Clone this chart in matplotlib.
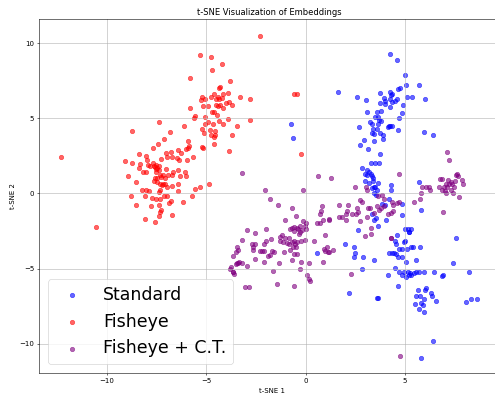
import matplotlib
matplotlib.use("Agg")
import matplotlib.pyplot as plt
import numpy as np

# t-SNE coordinates =================================================
std_x = [-0.75, -0.65,
         4.25, 4.6, 5.0, 5.05, 5.7, 1.65, 3.75, 4.25, 4.35, 4.3, 4.65, 4.75,
         2.6, 3.05, 3.95, 4.0, 4.25, 4.35, 4.5, 4.6, 5.1, 5.35, 6.0, 3.75,
         4.0, 4.25, 4.9, 3.8, 3.6, 3.1, 4.85, 3.5, 3.65, 3.7, 4.7, 3.25,
         3.35, 3.65, 3.8, 4.2, 4.25, 4.35, 4.15, 2.7, 3.4, 3.6, 4.65, 3.35,
         3.45, 3.75, 3.9, 3.9, 2.95, 3.45, 5.95, 6.4, 2.75, 3.15, 3.75, 3.3,
         3.5, 3.7, 2.85, 3.1,
         3.2, 3.0, 3.1, 3.35, 3.4, 3.3, 3.0, 3.2, 3.4, 3.65, 3.45, 3.35,
         3.5, 3.6, 4.3, 4.3, 3.45, 3.55, 5.7, 4.2, 4.0, 4.85, 3.85, 5.8,
         3.35, 4.85, 3.45, 3.55, 4.05, 3.65, 2.65, 5.0, 5.15, 5.2, 5.2, 5.3,
         4.6, 7.55, 5.0, 4.95, 4.5, 4.55, 2.0, 2.45, 4.2, 4.35, 4.45, 4.55,
         4.7, 4.85, 5.1, 5.3, 5.4, 5.75, 2.5, 2.9, 3.45, 4.65, 4.85, 5.55,
         2.45,
         5.05, 7.4, 2.85, 4.5, 4.15, 4.7, 4.85, 5.05, 4.95, 5.15, 5.25, 5.3,
         5.45, 5.55, 5.7, 5.95, 6.45, 5.2, 6.85, 6.9, 8.2, 4.65, 2.2, 3.6,
         3.65, 5.65, 6.0, 6.05, 6.3, 6.35, 5.55, 5.75, 5.95, 6.55, 5.8, 5.5,
         5.9, 5.7, 5.95, 8.05, 8.3, 8.6, 6.4, 5.8, 0.55]
std_y = [4.6, 3.65,
         9.3, 8.85, 7.9, 7.2, 7.2, 6.75, 6.65, 6.75, 6.6, 6.55, 6.95, 7.0,
         6.4, 6.2, 6.35, 6.15, 6.3, 6.1, 6.15, 6.25, 6.4, 6.4, 6.3, 6.0,
         5.95, 5.75, 5.9, 5.5, 5.4, 5.4, 5.35, 5.05, 5.05, 4.9, 5.0, 4.75,
         4.6, 4.6, 4.8, 4.5, 4.5, 4.45, 4.4, 4.4, 4.3, 4.25, 4.2, 4.0,
         3.95, 4.0, 3.85, 3.6, 3.55, 3.45, 4.1, 3.9, 3.25, 2.95, 2.65, 2.0,
         2.0, 2.0, 1.7, 1.55,
         1.45, 1.3, 1.2, 1.15, 1.0, 1.3, 0.8, 0.7, 0.8, 0.7, 0.45, 0.35,
         0.4, 0.25, 0.55, 0.2, 0.0, -0.1, 0.75, -0.4, -0.75, -0.7, -0.7, -1.1,
         -1.35, -1.45, -1.75, -1.65, -1.75, -2.15, -2.45, -2.4, -2.4, -2.55, -2.6, -2.35,
         -2.75, -2.95, -3.15, -3.25, -3.2, -3.4, -3.4, -3.6, -4.0, -4.0, -4.0, -4.05,
         -3.7, -3.7, -3.7, -3.6, -3.55, -3.6, -4.0, -4.25, -4.4, -4.25, -4.25, -4.4,
         -4.25,
         -4.55, -4.6, -5.05, -4.95, -5.4, -5.25, -5.45, -5.55, -5.2, -5.2, -5.3, -5.45,
         -5.3, -5.2, -5.2, -5.2, -5.2, -5.45, -5.5, -5.4, -5.2, -6.15, -6.6, -6.95,
         -6.95, -6.4, -6.4, -6.3, -6.65, -6.8, -6.85, -6.85, -7.05, -7.15, -7.3, -7.35,
         -7.45, -7.7, -7.9, -7.2, -7.0, -7.0, -9.85, -10.95, -4.0]

fish_x = [-2.3, -5.3, -4.75, -4.2, -4.7, -5.8, -3.8, -4.3, -4.35, -3.9,
          -5.2, -4.75, -4.5, -4.4, -4.35, -4.2, -4.15, -4.6, -3.3, -2.8,
          -5.25, -5.05, -4.0, -3.85, -3.7, -4.9, -5.15, -4.4, -4.3, -4.15,
          -4.5, -5.8, -4.7, -4.6, -4.45, -5.55, -5.6, -5.05, -3.9, -2.8,
          -7.35, -4.9, -4.65, -4.35, -4.15, -5.05, -6.1, -3.45, -5.2, -4.8,
          -6.8, -5.1, -4.75, -4.55, -4.6, -3.7, -7.1, -5.9, -7.4, -5.85,
          -5.9, -5.2, -5.15, -4.6, -7.65, -3.85, -0.6, -0.45, -0.25,
          -8.75, -4.55, -6.0, -8.35, -8.0, -7.0, -6.75, -6.95, -6.7, -6.4,
          -6.25, -6.45, -6.35, -5.65, -5.95, -7.25, -9.1, -8.75, -7.95, -8.3,
          -8.35, -7.9, -12.3, -7.8, -7.6, -7.5, -7.35, -7.5, -7.35, -7.45,
          -7.55, -7.65, -7.0, -6.4, -6.65, -6.7, -6.9, -6.05, -6.0, -6.3,
          -8.15, -8.0, -8.95, -7.5, -7.3, -7.45, -7.55, -7.25, -7.15, -7.05,
          -8.5, -7.6, -7.45, -7.3, -7.15, -7.2, -7.05, -6.95, -6.7, -6.4,
          -6.4, -5.55, -5.3, -4.85, -8.2, -8.0, -7.85, -7.35, -7.3, -7.1,
          -6.95, -8.8, -8.05, -7.7, -7.5, -7.3, -6.15, -5.7, -6.75, -6.85,
          -8.5, -7.75, -7.35, -7.25, -7.3, -7.35, -6.7, -8.05, -7.55, -10.55]
fish_y = [10.5, 9.2, 9.07, 8.6, 8.2, 7.7, 7.5, 7.1, 7.0, 6.7,
          6.4, 6.4, 6.3, 6.4, 6.3, 6.35, 6.6, 6.6, 6.4, 6.3,
          6.2, 6.3, 6.0, 6.1, 5.9, 5.8, 5.8, 5.8, 5.9, 5.7,
          5.9, 5.7, 5.4, 5.4, 5.2, 5.15, 5.0, 5.05, 4.95, 4.9,
          4.75, 4.75, 4.6, 4.8, 4.6, 4.6, 4.45, 4.45, 4.3, 4.2,
          4.05, 4.0, 3.85, 3.9, 3.75, 3.85, 3.6, 3.5, 3.3, 3.15,
          3.0, 3.1, 3.0, 3.3, 3.0, 2.85, 6.6, 6.6, 2.6,
          4.15, 4.15, 2.95, 2.6, 2.5, 2.7, 2.75, 2.45, 2.45, 2.9,
          2.7, 2.35, 2.2, 2.45, 2.25, 2.3, 2.15, 2.05, 2.2, 1.95,
          1.7, 1.9, 2.4, 1.85, 1.8, 1.9, 1.85, 1.6, 1.55, 1.7,
          1.75, 2.0, 1.6, 1.55, 1.4, 1.25, 1.2, 1.45, 1.15, 1.15,
          1.45, 1.45, 1.15, 1.4, 1.25, 1.05, 1.05, 1.1, 1.25, 1.0,
          0.75, 0.8, 0.75, 0.65, 0.6, 0.55, 0.65, 0.45, 0.5, 0.6,
          0.15, 0.3, 0.45, 0.6, 0.25, 0.25, 0.15, 0.1, 0.25, -0.15,
          -0.15, -0.2, -0.15, -0.3, -0.4, -0.4, -0.55, -0.2, -0.5, -0.65,
          -0.75, -0.85, -0.75, -1.1, -1.25, -1.5, -1.45, -1.7, -1.9, -2.25]

ct_x = [7.1, 7.2, 4.7, 1.3, 0.6, 2.5, 3.05, 3.1, -3.2, -2.05, -0.15,
        6.75, 6.85, 7.15, 7.3, 7.35, 7.55, 7.6, 7.65, 7.85, 7.9, 7.5, 7.05,
        7.2, 6.95, 7.1, 7.3, 6.85, 7.0, 7.45, 7.7, 5.85, 6.05, 6.2, 6.25,
        6.7, 7.4, 7.05, 6.9, 5.8, 5.75, 5.45,
        3.65, 3.85, 3.95, 4.35, 4.6, 4.7, 4.4, 3.95, 3.8, 3.6, 3.7, 3.25,
        3.45, 4.3, 4.15, 4.4, 3.1, 2.75, 2.85, 3.15, 2.15, 4.3,
        1.7, 2.1, 2.05, 2.6, 2.65, 2.55, 2.35, 1.7, 1.85, 2.75, 1.2, 2.05,
        3.3, 3.0, 3.3, 4.3, 1.4, 1.2, 2.3, 4.75,
        -1.8, -1.4, -0.7, -0.5, -1.05, 0.85, 0.8, 0.75, 1.2, 0.9, 0.55, 0.75,
        -0.15, -0.05, 0.0, 1.0, -0.7, -0.6, -0.45, -0.4, -0.3, -0.35, -0.8, -0.6,
        -2.95, -2.55, -2.0, -1.75, -2.0, -1.2, -1.3, -1.05, -1.3, -1.15, -0.95, -0.85,
        -0.7, -0.6, -0.55, -0.45, -0.65, -0.5, -0.85, -0.25, -0.05, -0.8, -0.6, -0.45,
        -1.1, -0.7, -0.25, -0.3, 0.15, 0.4, 0.05, 0.2, -0.6, -1.45, -1.65, -1.35,
        -2.1, -2.55, -2.1, -2.2, -1.7, -1.8, -1.6, -1.9, -2.65, -2.65, -2.55, -2.7,
        -2.3, -3.2, -3.45, -3.4, -3.5, -3.65, -3.45, -3.35, -3.2, -3.5, -3.4, -2.95,
        -3.75, -3.8, -3.65, -3.6, -3.65, -3.05, -2.85, -2.1,
        0.0, -0.3, -0.2, 0.95, 1.1, 1.15, 1.0, 0.9, 0.15]
ct_y = [2.75, 2.2, 1.3, 1.05, 1.15, 0.45, 0.4, 0.25, 1.35, 0.2, 0.25,
        0.95, 0.95, 0.9, 0.75, 0.6, 1.2, 1.3, 1.15, 0.9, 0.6, 0.8, 0.6,
        0.6, 0.4, 0.4, 0.25, 0.25, 0.15, 0.45, -0.25, 0.4, 0.4, 0.4, 0.25,
        0.4, 0.0, 0.0, -1.25, 0.0, -0.4, -0.55,
        -0.2, -0.1, -0.35, -0.55, -0.65, -0.6, -0.75, -0.85, -0.95, -0.85, -1.1, -0.95,
        -1.3, -1.3, -1.35, -1.15, -1.6, -0.45, -0.6, -1.0, -0.75, -2.95,
        -0.8, -1.15, -1.35, -1.0, -1.25, -1.35, -1.4, -1.55, -1.6, -1.85, -1.7, -1.75,
        -2.3, -2.85, -2.7, -2.95, -3.75, -3.9, -5.35, -10.8,
        -0.4, -0.75, -0.95, -1.5, -1.8, -0.85, -1.2, -1.35, -1.75, -1.8, -2.0, -2.0,
        -1.85, -2.15, -2.4, -2.75, -2.3, -2.25, -2.3, -2.4, -2.6, -2.7, -2.4, -2.5,
        -2.45, -2.65, -2.4, -3.05, -3.15, -2.8, -2.9, -3.0, -3.15, -3.25, -3.3, -3.35,
        -3.25, -3.15, -3.35, -3.25, -3.55, -3.55, -3.0, -3.2, -3.1, -3.75, -4.05, -4.05,
        -3.9, -4.45, -4.55, -5.05, -4.65, -3.2, -5.45, -5.85, -6.15, -6.0, -5.15, -4.6,
        -4.55, -4.35, -3.85, -3.85, -3.85, -4.1, -3.9, -4.15, -3.8, -3.6, -3.4, -3.35,
        -3.85, -3.1, -3.55, -3.8, -3.9, -4.2, -4.6, -4.55, -4.6, -4.7, -4.65, -4.85,
        -4.9, -5.05, -5.2, -5.35, -5.25, -6.25, -6.25, -3.35,
        -2.0, -2.15, -2.45, -3.7, -3.6, -3.9, -3.85, -4.55, -5.7]

labels = ["Standard", "Fisheye", "Fisheye + C.T."]
colors = ["blue", "red", "purple"]
# end data ===========================================================

fig = plt.figure(figsize=(9.9, 7.86), dpi=50)
ax = fig.add_axes([0.0788, 0.0509, 0.94, 0.9008])

series = [(std_x, std_y), (fish_x, fish_y), (ct_x, ct_y)]
for (sx, sy), lab, col in zip(series, labels, colors):
    ax.scatter(sx, sy, s=40, c=col, alpha=0.6, label=lab)

ax.set_xlim(-13.4, 9.99)
ax.set_ylim(-11.95, 11.6)
ax.set_title("t-SNE Visualization of Embeddings", x=0.494)
ax.set_xlabel("t-SNE 1", labelpad=6)
ax.set_ylabel("t-SNE 2")
ax.grid(True)
ax.legend(loc="lower left", fontsize=25)

fig.savefig("out.png", dpi=50)
